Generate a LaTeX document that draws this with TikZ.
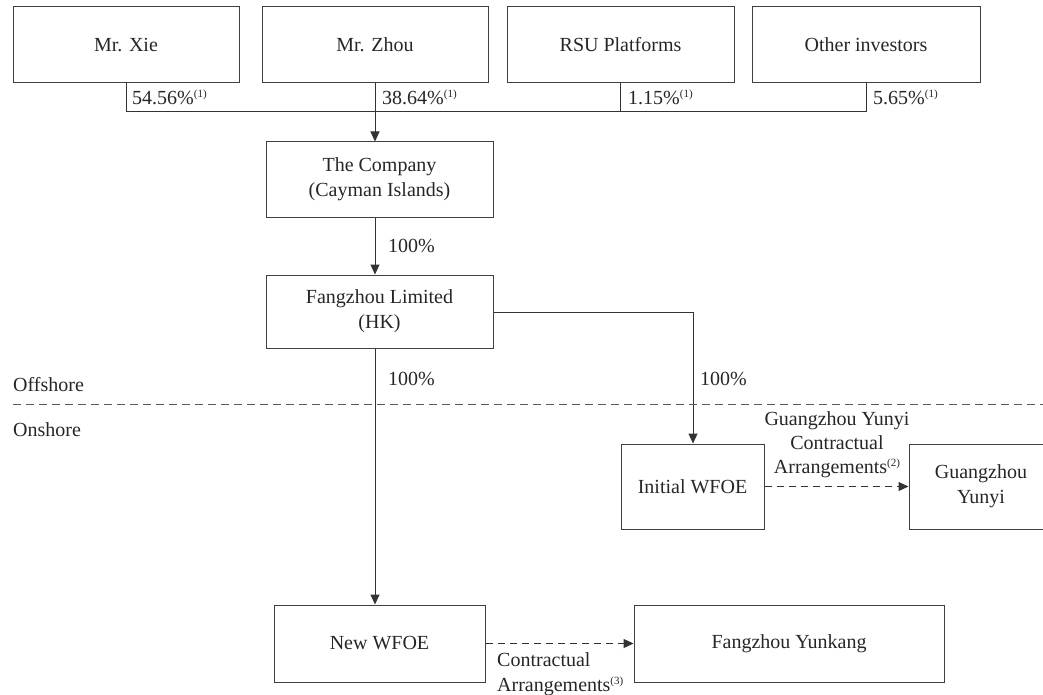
\documentclass[tikz,border=0pt]{standalone}
\usepackage{fontspec}
\setmainfont{Liberation Serif}
\usetikzlibrary{arrows.meta}
\newcommand\fnote[1]{\raisebox{0.75ex}{\fontsize{11}{11}\selectfont(#1)}}
\begin{document}
\begin{tikzpicture}[x=1pt,y=-1pt,
  every node/.style={font=\fontsize{20}{25}\selectfont, text=black!85},
  entity/.style={draw=black!75, line width=1pt, inner sep=0pt, align=center},
  conn/.style={draw=black!80, line width=1pt},
  arr/.style={conn, -{Triangle[length=10pt,width=9pt]}},
  darr/.style={conn, dash pattern=on 7pt off 5pt, -{Triangle[length=10pt,width=9pt]}},
  lbl/.style={inner sep=0pt, anchor=west}]
\useasboundingbox (0,0) rectangle (1043,695);
% shareholders
\node[entity, minimum width=226pt, minimum height=76pt] (xie) at (126,45) {Mr. Xie};
\node[entity, minimum width=226pt, minimum height=76pt] (zhou) at (375,45) {Mr. Zhou};
\node[entity, minimum width=227pt, minimum height=76pt] (rsu) at (620.5,45) {RSU Platforms};
\node[entity, minimum width=228pt, minimum height=76pt] (other) at (866,45) {Other investors};
\coordinate (bus) at (375,112);
% companies
\node[entity, minimum width=227pt, minimum height=75pt] (company) at (379.5,179.5) {The Company\\(Cayman Islands)};
\node[entity, minimum width=227pt, minimum height=73pt] (fzl) at (379.5,311.5) {Fangzhou Limited\\(HK)};
\node[entity, minimum width=143pt, minimum height=85pt] (iwfoe) at (692.5,486.5) {Initial WFOE};
\node[entity, minimum width=144pt, minimum height=85pt] (gy) at (981,486.5) {Guangzhou\\Yunyi};
\node[entity, minimum width=211pt, minimum height=77pt] (nwfoe) at (379.5,643.5) {New WFOE};
\node[entity, minimum width=310pt, minimum height=77pt] (fy) at (789,643.5) {Fangzhou Yunkang};
% bus lines
\draw[conn] (xie.south) -- (xie.south |- bus) -- (other.south |- bus) -- (other.south);
\draw[conn] (zhou.south) -- (bus);
\draw[conn] (rsu.south) -- (rsu.south |- bus);
\draw[arr] (bus) -- (bus |- company.north);
\draw[arr] (company.south -| bus) -- (fzl.north -| bus);
\draw[arr] (fzl.south -| bus) -- (nwfoe.north -| bus);
\coordinate (turn) at (693,312);
\draw[arr] (fzl.east |- turn) -- (turn) -- (turn |- iwfoe.north);
\draw[darr] (iwfoe.east) -- (gy.west);
\draw[darr] (nwfoe.east) -- (fy.west);
% offshore / onshore
\coordinate (offL) at (13,404);
\coordinate (offR) at (1043,404);
\draw[conn, draw=black!65, dash pattern=on 8pt off 5pt] (offL) -- (offR);
\node[lbl] (offshore) at (13,385) {Offshore};
\node[lbl] (onshore) at (13,430) {Onshore};
% labels
\node[lbl] (p1) at (132,97) {54.56\%\fnote{1}};
\node[lbl] (p2) at (382,97) {38.64\%\fnote{1}};
\node[lbl] (p3) at (628,97) {1.15\%\fnote{1}};
\node[lbl] (p4) at (873,97) {5.65\%\fnote{1}};
\node[lbl] (h1) at (388,246) {100\%};
\node[lbl] (h2) at (388,379) {100\%};
\node[lbl] (h3) at (700,379) {100\%};
\node[inner sep=0pt, align=center, font=\fontsize{20}{24}\selectfont] (gylbl) at (837,445) {Guangzhou Yunyi\\Contractual\\Arrangements\fnote{2}};
\node[inner sep=0pt, align=left, anchor=north west, font=\fontsize{20}{25}\selectfont] (fylbl) at (497,652) {Contractual\\Arrangements\fnote{3}};
\end{tikzpicture}
\end{document}
